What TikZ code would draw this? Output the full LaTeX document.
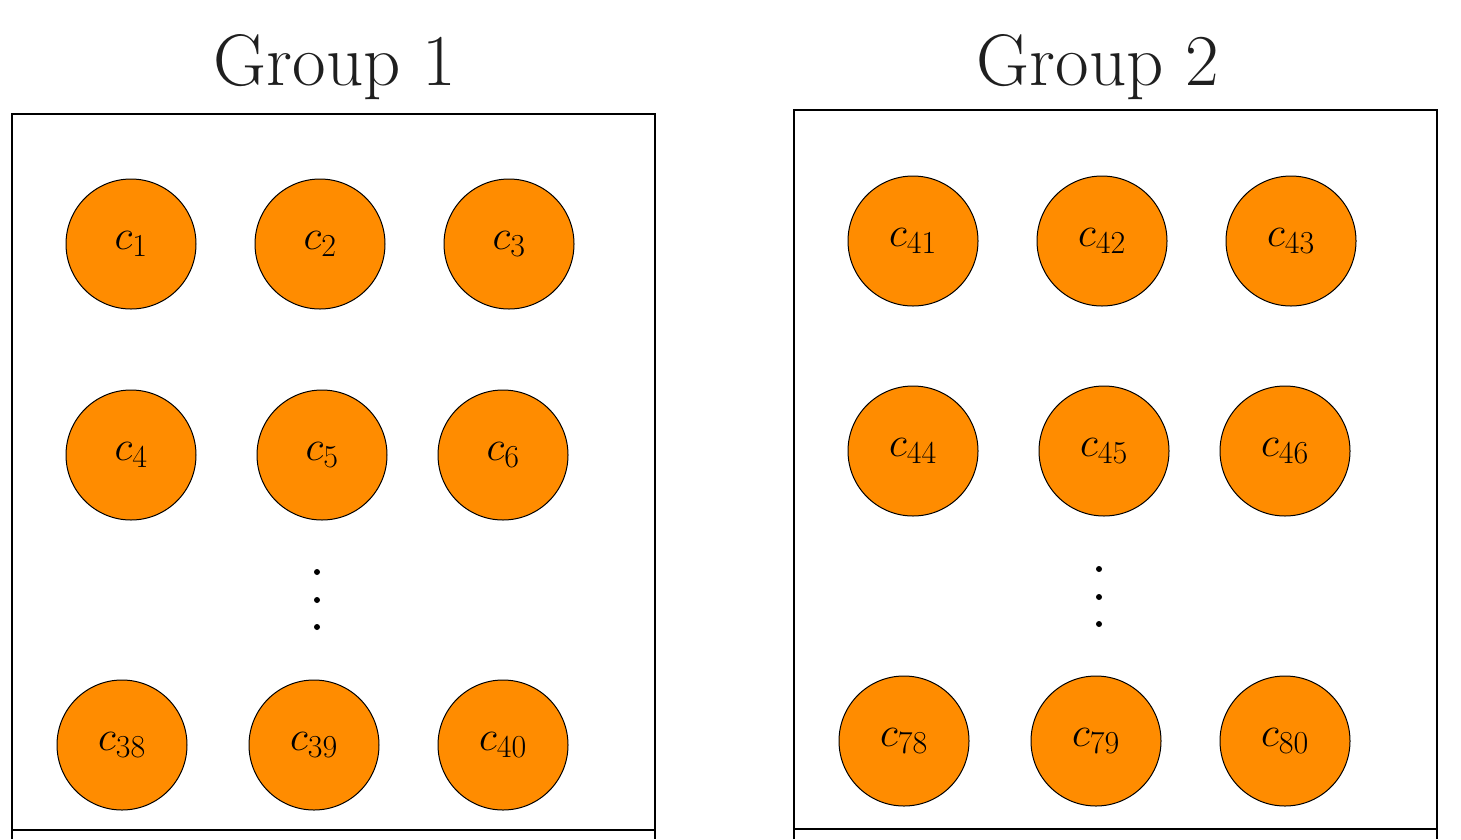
\RequirePackage{fix-cm}
\documentclass[tikz,border=0pt]{standalone}
\usetikzlibrary{positioning}
\definecolor{corange}{RGB}{255,140,0}
\DeclareMathSizes{42}{42}{32}{24}
\tikzstyle{cn} = [circle, draw, fill=corange, minimum size=130pt, inner sep=0pt,
    line width=1pt, font=\fontsize{42}{44}\selectfont]
\tikzstyle{title} = [anchor=base, text=black!88, font=\fontsize{73}{80}\selectfont]
\tikzstyle{frame} = [line width=1.3pt]
\tikzstyle{vdot} = [circle, fill=black, inner sep=0pt, minimum size=6pt]

\begin{document}
\begin{tikzpicture}[x=1pt,y=-1pt,node distance=189pt]
  \useasboundingbox (0,0) rectangle (1461,839);

  % group 1
  \node[title] (t1) at (335,85) {Group 1};
  \draw[frame] (12,839) -- (12,114) -- (655,114) -- (655,839);
  \draw[frame] (12,830) -- (655,830);

  \node[cn]           (1) at (131,244) {$c_{1}$};
  \node[cn]           (2) [right of=1] {$c_{2}$};
  \node[cn]           (3) [right of=2] {$c_{3}$};
  \node[cn]           (4) at (131,455) {$c_{4}$};
  \node[cn]           (5) [right of=4,xshift=2pt] {$c_{5}$};
  \node[cn]           (6) [right of=5,xshift=-8pt] {$c_{6}$};
  \node[vdot]         (d1) at (317,572) {};
  \node[vdot]         (d2) at (317,600) {};
  \node[vdot]         (d3) at (317,627) {};
  \node[cn]           (38) at (122,745) {$c_{38}$};
  \node[cn]           (39) [right of=38,xshift=3pt] {$c_{39}$};
  \node[cn]           (40) [right of=39] {$c_{40}$};

  % group 2
  \node[title] (t2) at (1098,85) {Group 2};
  \draw[frame] (794,839) -- (794,110) -- (1437,110) -- (1437,839);
  \draw[frame] (794,829) -- (1437,829);

  \node[cn]           (41) at (913,241) {$c_{41}$};
  \node[cn]           (42) [right of=41] {$c_{42}$};
  \node[cn]           (43) [right of=42] {$c_{43}$};
  \node[cn]           (44) at (913,451) {$c_{44}$};
  \node[cn]           (45) [right of=44,xshift=2pt] {$c_{45}$};
  \node[cn]           (46) [right of=45,xshift=-8pt] {$c_{46}$};
  \node[vdot]         (d4) at (1099,569) {};
  \node[vdot]         (d5) at (1099,597) {};
  \node[vdot]         (d6) at (1099,624) {};
  \node[cn]           (78) at (904,741) {$c_{78}$};
  \node[cn]           (79) [right of=78,xshift=3pt] {$c_{79}$};
  \node[cn]           (80) [right of=79] {$c_{80}$};
\end{tikzpicture}
\end{document}
